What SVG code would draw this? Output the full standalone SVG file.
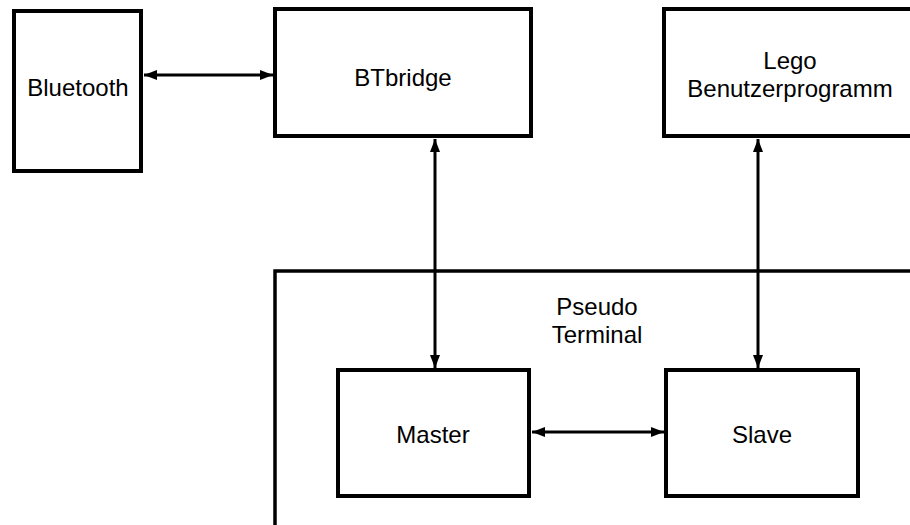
<svg xmlns="http://www.w3.org/2000/svg" width="910" height="525" viewBox="0 0 910 525">
  <defs>
    <marker id="ah" markerUnits="userSpaceOnUse" markerWidth="13" markerHeight="10" refX="13" refY="5" orient="auto-start-reverse">
      <path d="M0,0 L13,5 L0,10 z" fill="#000"/>
    </marker>
    <style>
      .box { fill: #fff; stroke: #000; stroke-width: 4; }
      .frame { fill: none; stroke: #000; stroke-width: 3.5; }
      .lbl { font-family: "Liberation Sans", Arial, sans-serif; font-size: 24px; fill: #000; text-anchor: middle; }
      .conn { stroke: #000; stroke-width: 3; fill: none; marker-start: url(#ah); marker-end: url(#ah); }
    </style>
  </defs>
  <rect width="910" height="525" fill="#fff"/>

  <g id="pseudo-terminal">
    <rect class="frame" x="275" y="271" width="700" height="300"/>
    <text class="lbl" x="597" y="315">Pseudo</text>
    <text class="lbl" x="597" y="343">Terminal</text>
  </g>

  <g id="bluetooth">
    <rect class="box" x="14" y="11" width="127" height="160"/>
    <text class="lbl" x="78" y="96">Bluetooth</text>
  </g>

  <g id="btbridge">
    <rect class="box" x="275" y="9" width="256" height="127"/>
    <text class="lbl" x="403" y="86">BTbridge</text>
  </g>

  <g id="lego">
    <rect class="box" x="664" y="9" width="300" height="127"/>
    <text class="lbl" x="790" y="69">Lego</text>
    <text class="lbl" x="790" y="97">Benutzerprogramm</text>
  </g>

  <g id="master">
    <rect class="box" x="338" y="370" width="191" height="126"/>
    <text class="lbl" x="433" y="443">Master</text>
  </g>

  <g id="slave">
    <rect class="box" x="666" y="370" width="192" height="126"/>
    <text class="lbl" x="762" y="443">Slave</text>
  </g>

  <g id="connectors">
    <line class="conn" x1="144" y1="75" x2="273" y2="75"/>
    <line class="conn" x1="435" y1="139" x2="435" y2="368"/>
    <line class="conn" x1="758" y1="139" x2="758" y2="368"/>
    <line class="conn" x1="532" y1="432" x2="664" y2="432"/>
  </g>
</svg>
